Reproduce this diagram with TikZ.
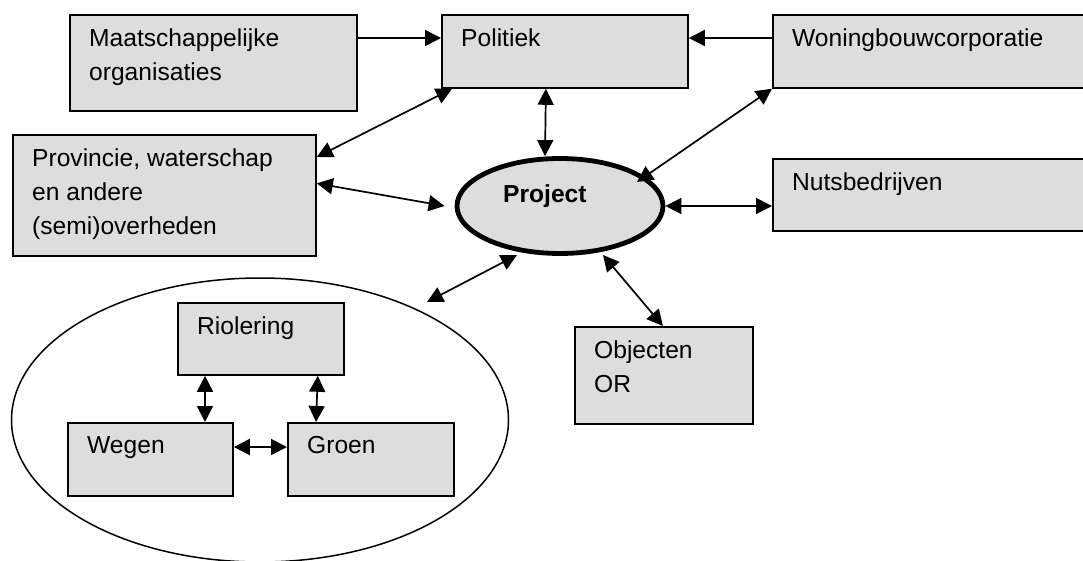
\documentclass[tikz,border=0pt]{standalone}
\usepackage{fontspec}
\setmainfont{Liberation Sans}
\usetikzlibrary{arrows.meta,shapes.geometric,positioning}
\definecolor{boxgray}{HTML}{DDDDDD}

\begin{document}
\begin{tikzpicture}[x=1pt,y=-1pt,
  box/.style={draw,line width=1.8pt,fill=boxgray,rectangle,anchor=north west,inner sep=0pt},
  txt/.style={anchor=north west,xshift=20pt,yshift=-14.5pt,align=left,inner sep=0pt,
    font=\fontsize{24.6}{34}\selectfont},
  link/.style={line width=1.7pt},
  uni/.style={link,-{Triangle[length=16pt,width=16pt]}},
  bi/.style={link,{Triangle[length=16pt,width=16pt]}-{Triangle[length=16pt,width=16pt]}}]
\useasboundingbox (0,0) rectangle (1083,561);

% the boxes round the project
\node[box,minimum width=287,minimum height=96,
  label={[txt]north west:Maatschappelijke\\organisaties}] (maat) at (69,14) {};
\node[box,minimum width=246,minimum height=73,
  label={[txt]north west:Politiek}] (pol) at (441,14) {};
\node[box,minimum width=330,minimum height=73,
  label={[txt]north west:Woningbouwcorporatie}] (won) at (772,14) {};
\node[box,minimum width=303,minimum height=121,
  label={[txt]north west:{Provincie, waterschap\\en andere\\(semi)overheden}}] (prov) at (12,134) {};
\node[box,minimum width=330,minimum height=72,
  label={[txt]north west:Nutsbedrijven}] (nuts) at (772,158) {};
\node[box,minimum width=178,minimum height=97,
  label={[txt]north west:Objecten\\OR}] (obj) at (574,326) {};

% the project itself
\node[draw,ellipse,line width=4.8pt,fill=boxgray,minimum width=206,minimum height=95] (proj) at (560,206) {};
\node[anchor=base west,inner sep=0pt,font=\fontsize{24.6}{34}\selectfont\bfseries]
  (projtxt) at ([xshift=-57pt,yshift=3pt]proj.center) {Project};

% the group of public works
\node[draw,ellipse,line width=1.5pt,minimum width=497,minimum height=284] (group) at (260,420) {};
\node[box,minimum width=166,minimum height=72,
  label={[txt]north west:Riolering}] (riol) at (177,302) {};
\node[box,minimum width=165,minimum height=73,
  label={[txt]north west:Wegen}] (weg) at (67,422) {};
\node[box,minimum width=166,minimum height=73,
  label={[txt]north west:Groen}] (groen) at (287,422) {};

% one way arrows to the politics
\draw[uni] ([yshift=-24pt]maat.north east) -- ([yshift=-24pt]pol.north west);
\draw[uni] ([yshift=-24pt]won.north west) -- ([yshift=-24pt]pol.north east);

% two way arrows
\draw[bi] ([xshift=11pt]pol.south west) -- ([yshift=-23pt]prov.north east);
\draw[bi] ([xshift=-19pt]pol.south) -- ([xshift=-15pt]proj.north);
\draw[bi] (won.south west) -- ([xshift=77pt,yshift=24pt]proj.center);
\draw[bi] ([yshift=12pt]prov.east) -- ([xshift=-10pt]proj.west);
\draw[bi] (proj.east) -- (proj.east -| nuts.west);
\draw[bi] ([xshift=-43pt,yshift=-49pt]proj.center) -- ([xshift=167pt,yshift=118pt]group.center);
\draw[bi] ([xshift=43pt,yshift=-49pt]proj.center) -- ([xshift=-1pt]obj.north);

% inside the group
\draw[bi] ([xshift=28pt]riol.south west) -- ([xshift=138pt]weg.north west);
\draw[bi] ([xshift=-27pt]riol.south east) -- ([xshift=29pt]groen.north west);
\draw[bi] ([yshift=-25pt]weg.north east) -- ([yshift=-25pt]groen.north west);
\end{tikzpicture}
\end{document}
